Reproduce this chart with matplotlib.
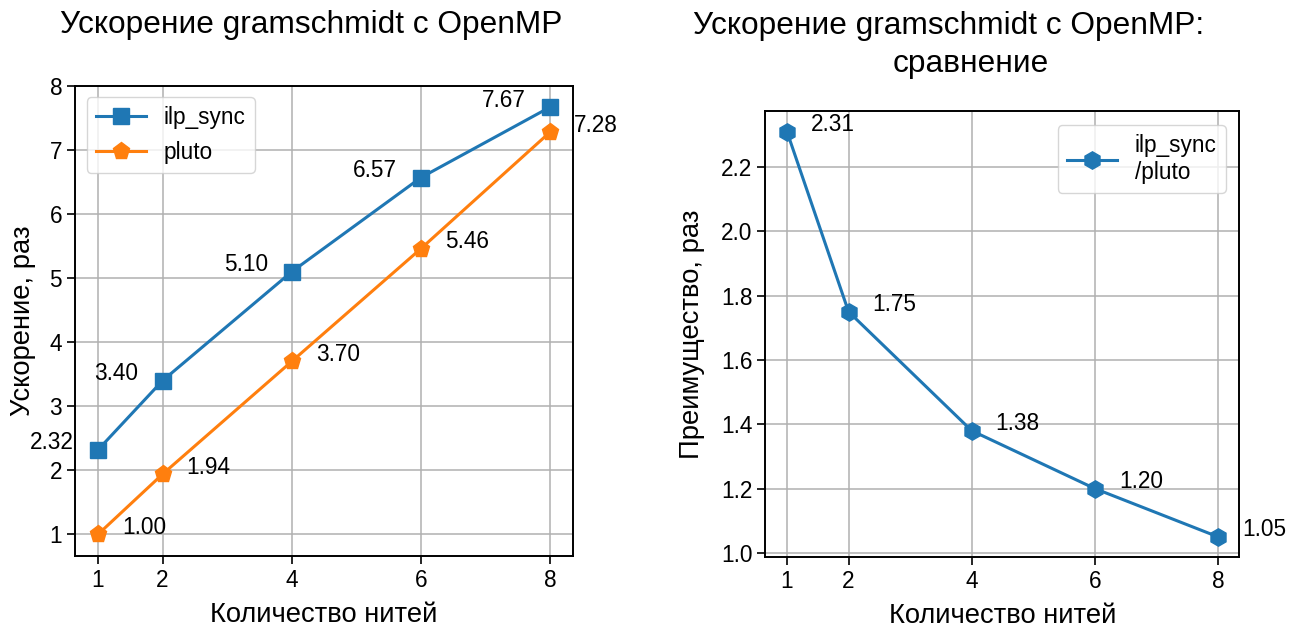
import matplotlib
matplotlib.use("Agg")
import matplotlib.pyplot as plt

plt.rcParams['font.family'] = ['Liberation Sans', 'DejaVu Sans']

threads = [1, 2, 4, 6, 8]
ilp_sync = [2.32, 3.40, 5.10, 6.57, 7.67]
pluto = [1.00, 1.94, 3.70, 5.46, 7.28]
ratio = [2.31, 1.75, 1.38, 1.20, 1.05]

left_ticks_y = [1, 2, 3, 4, 5, 6, 7, 8]
right_ticks_y = [1.0, 1.2, 1.4, 1.6, 1.8, 2.0, 2.2]

blue = '#1f77b4'
orange = '#ff7f0e'

TICK_FS = 16.3
LABEL_FS = 19.7
TITLE_FS = 22.8

fig = plt.figure(figsize=(13.04, 6.33), dpi=100)
ax1 = fig.add_axes([0.0578, 0.1221, 0.3813, 0.742])
ax2 = fig.add_axes([0.5870, 0.1200, 0.3635, 0.704])

# Left panel: speedup of both variants
ax1.plot(threads, ilp_sync, marker='s', ms=12, lw=2.2, color=blue, label='ilp_sync')
ax1.plot(threads, pluto, marker='p', ms=12.5, lw=2.2, color=orange, label='pluto')
for x, y in zip(threads, ilp_sync):
    ax1.annotate(f'{y:.2f}', (x, y), xytext=(-46, 7), textcoords='offset pixels',
                 ha='center', va='center', fontsize=TICK_FS)
for x, y in zip(threads, pluto):
    ax1.annotate(f'{y:.2f}', (x, y), xytext=(46, 7), textcoords='offset pixels',
                 ha='center', va='center', fontsize=TICK_FS, annotation_clip=False)
ax1.set_xticks(threads)
ax1.set_yticks(left_ticks_y)
ax1.set_ylim(0.667, 8.0)
ax1.set_xlim(0.65, 8.35)
ax1.grid(True, color='#b0b0b0', lw=1.1)
ax1.set_xlabel('Количество нитей', fontsize=LABEL_FS, labelpad=7)
ax1.set_ylabel('Ускорение, раз', fontsize=LABEL_FS, labelpad=9.5)
ax1.set_title('Ускорение gramschmidt с OpenMP', fontsize=TITLE_FS, pad=38, x=0.474)
ax1.legend(loc='upper left', fontsize=TICK_FS, handlelength=2.2, borderaxespad=0.5)

# Right panel: advantage ratio
ax2.plot(threads, ratio, marker='h', ms=12.5, lw=2.2, color=blue, label='ilp_sync\n/pluto')
for x, y in zip(threads, ratio):
    ax2.annotate(f'{y:.2f}', (x, y), xytext=(46, 7), textcoords='offset pixels',
                 ha='center', va='center', fontsize=TICK_FS, annotation_clip=False)
ax2.set_xticks(threads)
ax2.set_yticks(right_ticks_y)
ax2.set_ylim(0.987, 2.373)
ax2.set_xlim(0.65, 8.35)
ax2.grid(True, color='#b0b0b0', lw=1.1)
ax2.set_xlabel('Количество нитей', fontsize=LABEL_FS, labelpad=7)
ax2.set_ylabel('Преимущество, раз', fontsize=LABEL_FS, labelpad=11)
# two-line title, each line placed on its own
ax2.annotate('Ускорение gramschmidt с OpenMP:', (0.387, 1.0), xycoords='axes fraction',
             xytext=(0, 77), textcoords='offset pixels', ha='center', va='baseline',
             fontsize=TITLE_FS, annotation_clip=False)
ax2.annotate('сравнение', (0.4335, 1.0), xycoords='axes fraction',
             xytext=(0, 39), textcoords='offset pixels', ha='center', va='baseline',
             fontsize=TITLE_FS, annotation_clip=False)
ax2.legend(loc='upper right', fontsize=TICK_FS, handlelength=2.2, borderaxespad=0.6)

for ax in (ax1, ax2):
    ax.tick_params(labelsize=TICK_FS, width=1.2, length=6)
    for s in ax.spines.values():
        s.set_linewidth(1.4)

fig.savefig('out.png', dpi=100)
